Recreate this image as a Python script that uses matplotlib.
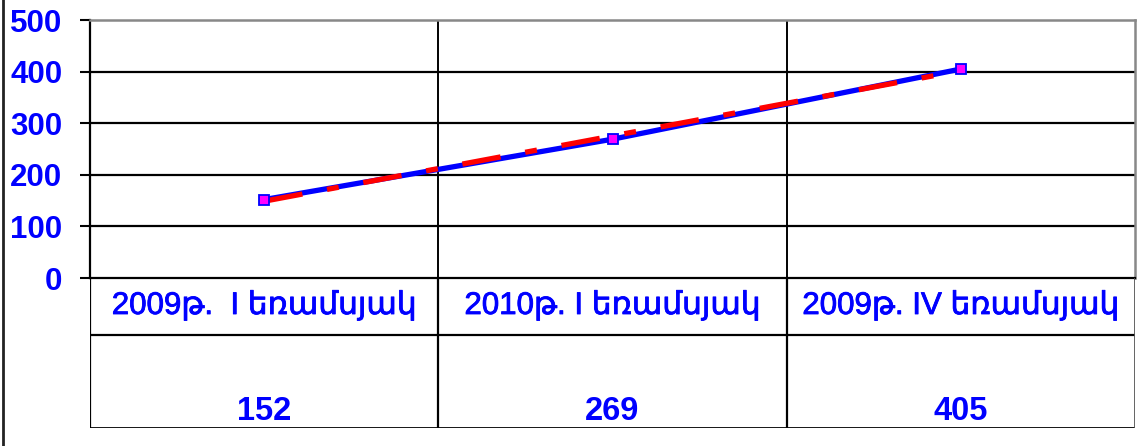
import matplotlib
matplotlib.use("Agg")
import matplotlib.pyplot as plt
import matplotlib.patheffects as pe
import numpy as np
from matplotlib.lines import Line2D

plt.rcParams['lines.scale_dashes'] = False

categories = ["2009թ.  I եռամսյակ", "2010թ. I եռամսյակ", "2009թ. IV եռամսյակ"]
values = [152, 269, 405]
yticks = [0, 100, 200, 300, 400, 500]

FAM = ['Liberation Sans', 'DejaVu Sans']
W, H = 1138, 446
fig = plt.figure(figsize=(W / 100, H / 100), dpi=100)

def fx(px):
    return px / W

def fy(py):
    return 1 - py / H

left, right, top, zero = 90, 1135, 20, 278
ax = fig.add_axes([fx(left), fy(zero), fx(right - left), (zero - top) / H])
x = np.arange(len(values))
ax.set_xlim(-0.5, len(values) - 0.5)
ax.set_ylim(0, 500)
ax.set_yticks(yticks)
ax.set_yticklabels([str(t) for t in yticks], family=FAM, fontweight='bold',
                   fontsize=22.5, color='#0000FF')
ax.tick_params(axis='y', length=7, width=1.5, color='black', pad=13)
ax.set_xticks([])
for yv in yticks[1:-1]:
    ax.axhline(yv, color='black', lw=1.6, zorder=1)
for xb in [0.5, 1.5]:
    ax.axvline(xb, color='black', lw=1.4, zorder=1)
for s in ['left', 'bottom']:
    ax.spines[s].set_color('black')
    ax.spines[s].set_linewidth(1.6)
for s in ['top', 'right']:
    ax.spines[s].set_color('#888888')
    ax.spines[s].set_linewidth(1.8)

# trend line (linear fit)
coef = np.polyfit(x, values, 1)
trend = np.polyval(coef, x)
ax.plot(x, values, color='#0000FF', lw=3.8, zorder=3)
tl, = ax.plot(x, trend, color='#FF0000', lw=3.8, zorder=4, solid_capstyle='butt')
tl.set_dashes([28, 18, 8.6, 18])
tl.set_dash_capstyle('butt')
ax.plot(x, values, ls='none', zorder=5, marker='s', markersize=7,
        markerfacecolor='#FF00FF', markeredgecolor='#0000FF', markeredgewidth=1.3)

# data table
tbl_bottom = 428
tax = fig.add_axes([fx(left), fy(tbl_bottom), fx(right - left), (tbl_bottom - zero) / H])
tax.set_xlim(-0.5, len(values) - 0.5)
tax.set_ylim(0, tbl_bottom - zero)
tax.axis('off')
row_split = tbl_bottom - 335
tax.axhline(row_split, color='black', lw=1.6)
tax.axhline(0, color='black', lw=2.0)
for xb in [-0.5, 0.5, 1.5]:
    tax.axvline(xb, color='black', lw=1.6)
tax.axvline(2.5, color='#555555', lw=2.0)
for i, (c, v) in enumerate(zip(categories, values)):
    tax.text(i, tbl_bottom - 306, c, ha='center', va='center', family=FAM,
             fontsize=22.5, color='#0000FF',
             path_effects=[pe.withStroke(linewidth=0.6, foreground='#0000FF')])
    tax.text(i, tbl_bottom - 411, str(v), ha='center', va='center', family=FAM,
             fontsize=23.5, fontweight='bold', color='#0000FF')

# left border line
fig.add_artist(Line2D([fx(2.5), fx(2.5)], [0, 1], color='#222222', lw=2.0))

fig.savefig('out.png', dpi=100, facecolor='white')
